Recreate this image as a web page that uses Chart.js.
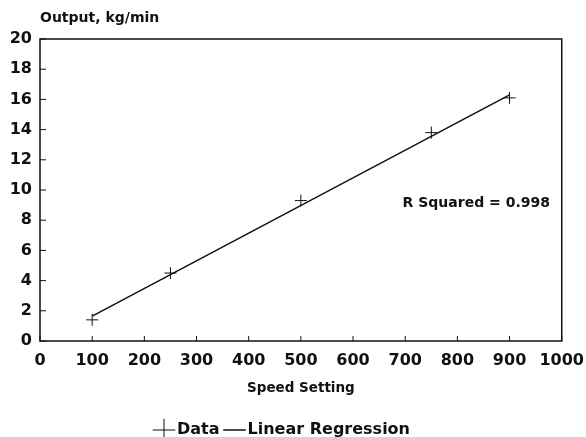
<!DOCTYPE html>
<html>
<head>
<meta charset="utf-8">
<script src="https://cdn.jsdelivr.net/npm/chart.js@4"></script>
<style>
  html, body { margin: 0; padding: 0; background: #fff; }
  #wrap { width: 586px; height: 437px; }
</style>
</head>
<body>
<div id="wrap"><canvas id="outputChart" width="586" height="437"></canvas></div>
<script>
// speed setting vs output readings
const speedSettings = [100, 250, 500, 750, 900];
const outputValues = [1.4, 4.5, 9.3, 13.8, 16.1];
// fitted line end points
const fitSpeeds = [100, 900];
const fitOutputs = [1.65, 16.3];
const xTickValues = [0, 100, 200, 300, 400, 500, 600, 700, 800, 900, 1000];
const yTickValues = [0, 2, 4, 6, 8, 10, 12, 14, 16, 18, 20];

const fontFamily = '"DejaVu Sans", "Liberation Sans", sans-serif';
const ink = '#111';

// frame, inward ticks, y title and r squared note
const framePlugin = {
    id: 'frame',
    afterDraw(chart) {
        const ctx = chart.ctx;
        const area = chart.chartArea;
        const xs = chart.scales.x;
        const ys = chart.scales.y;
        ctx.save();
        ctx.strokeStyle = ink;
        ctx.lineWidth = 1.5;
        ctx.strokeRect(area.left, area.top, area.right - area.left, area.bottom - area.top);

        ctx.lineWidth = 1;
        ctx.beginPath();
        xTickValues.forEach(v => {
            const px = xs.getPixelForValue(v);
            ctx.moveTo(px, area.bottom);
            ctx.lineTo(px, area.bottom - 5);
        });
        yTickValues.forEach(v => {
            const py = ys.getPixelForValue(v);
            ctx.moveTo(area.left, py);
            ctx.lineTo(area.left + 6, py);
        });
        ctx.stroke();

        ctx.fillStyle = ink;
        ctx.font = 'bold 14px ' + fontFamily;
        ctx.textAlign = 'left';
        ctx.textBaseline = 'alphabetic';
        ctx.fillText('Output, kg/min', area.left, 22);

        ctx.font = 'bold 14px ' + fontFamily;
        ctx.textBaseline = 'middle';
        ctx.fillText('R Squared = 0.998', xs.getPixelForValue(695), ys.getPixelForValue(9.1));
        ctx.restore();
    }
};

new Chart(document.getElementById('outputChart'), {
    type: 'scatter',
    data: {
        datasets: [{
            label: 'Data',
            data: speedSettings.map((s, i) => ({ x: s, y: outputValues[i] })),
            pointStyle: 'cross',
            pointRadius: 6,
            borderColor: ink,
            backgroundColor: ink,
            borderWidth: 1,
            showLine: false
        }, {
            label: 'Linear Regression',
            data: fitSpeeds.map((s, i) => ({ x: s, y: fitOutputs[i] })),
            showLine: true,
            pointRadius: 0,
            pointStyle: 'line',
            borderColor: ink,
            backgroundColor: ink,
            borderWidth: 1.5
        }]
    },
    options: {
        responsive: false,
        animation: false,
        layout: { padding: { top: 39, right: 23, left: 6, bottom: -11 } },
        scales: {
            x: {
                type: 'linear',
                min: 0,
                max: 1000,
                grid: { display: false },
                border: { display: false },
                afterBuildTicks: axis => { axis.ticks = xTickValues.map(v => ({ value: v })); },
                afterFit: axis => { axis.height = 71; },
                ticks: {
                    color: ink,
                    font: { family: fontFamily, size: 16, weight: 'bold' },
                    padding: 2,
                    maxRotation: 0,
                    callback: v => String(v)
                },
                title: { display: true, text: 'Speed Setting', color: ink, font: { family: fontFamily, size: 13.5, weight: 'bold' }, padding: { top: 8, bottom: 15 } }
            },
            y: {
                min: 0,
                max: 20,
                grid: { display: false },
                border: { display: false },
                afterBuildTicks: axis => { axis.ticks = yTickValues.map(v => ({ value: v })); },
                afterFit: axis => { axis.width = 34; },
                ticks: { color: ink, font: { family: fontFamily, size: 16, weight: 'bold' }, padding: 0 }
            }
        },
        plugins: {
            legend: {
                position: 'bottom',
                labels: {
                    usePointStyle: true,
                    boxWidth: 10,
                    color: ink,
                    font: { family: fontFamily, size: 16, weight: 'bold' },
                    padding: 10
                }
            },
            tooltip: { enabled: false }
        }
    },
    plugins: [framePlugin]
});
</script>
</body>
</html>
